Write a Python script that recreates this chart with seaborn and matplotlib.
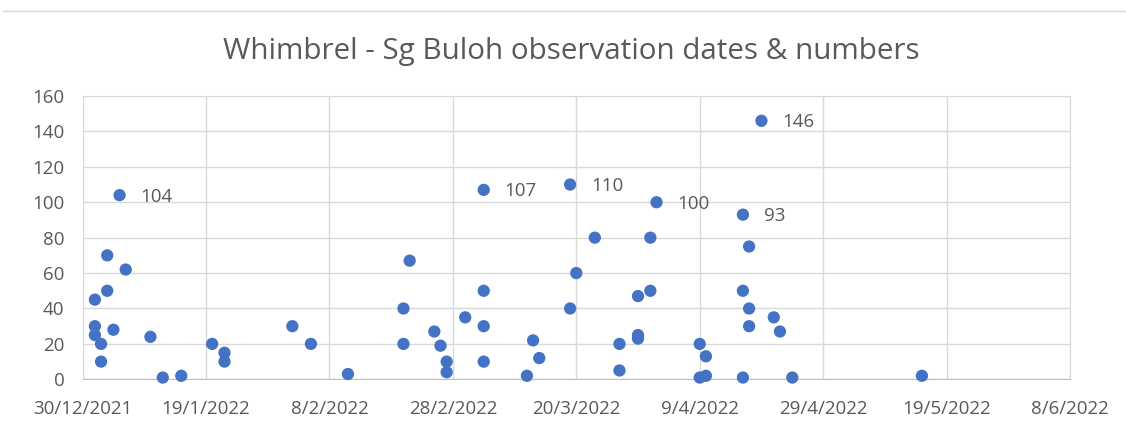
import pandas as pd
import matplotlib
matplotlib.use("Agg")
import matplotlib.pyplot as plt
import matplotlib.dates as mdates
from matplotlib.lines import Line2D
from matplotlib.ticker import FuncFormatter, FixedLocator, MultipleLocator
import seaborn as sns

# ---------- Data ----------
obs_dates = [
    "2022-01-01", "2022-01-01", "2022-01-01", "2022-01-02", "2022-01-02",
    "2022-01-03", "2022-01-03", "2022-01-04", "2022-01-05", "2022-01-06",
    "2022-01-10", "2022-01-12", "2022-01-15", "2022-01-20", "2022-01-22",
    "2022-01-22", "2022-02-02", "2022-02-05", "2022-02-11", "2022-02-20",
    "2022-02-20", "2022-02-21", "2022-02-25", "2022-02-26", "2022-02-27",
    "2022-02-27", "2022-03-02", "2022-03-05", "2022-03-05", "2022-03-05",
    "2022-03-05", "2022-03-12", "2022-03-13", "2022-03-14", "2022-03-19",
    "2022-03-19", "2022-03-20", "2022-03-23", "2022-03-27", "2022-03-27",
    "2022-03-30", "2022-03-30", "2022-03-30", "2022-04-01", "2022-04-01",
    "2022-04-02", "2022-04-09", "2022-04-09", "2022-04-10", "2022-04-10",
    "2022-04-16", "2022-04-16", "2022-04-16", "2022-04-17", "2022-04-17",
    "2022-04-17", "2022-04-19", "2022-04-21", "2022-04-22", "2022-04-24",
    "2022-05-15",
]
bird_counts = [
    45, 30, 25, 20, 10,
    70, 50, 28, 104, 62,
    24, 1, 2, 20, 15,
    10, 30, 20, 3, 40,
    20, 67, 27, 19, 10,
    4, 35, 107, 50, 30,
    10, 2, 22, 12, 110,
    40, 60, 80, 20, 5,
    47, 25, 23, 80, 50,
    100, 20, 1, 13, 2,
    93, 50, 1, 75, 40,
    30, 146, 35, 27, 1,
    2,
]
label_threshold = 90   # only the big counts carry a data label

x_start, x_end = "2021-12-30", "2022-06-08"
x_step_days = 20
y_max, y_step = 160, 20

BLUE = "#4472C4"
TEXT = "#595959"
GRID = "#D9D9D9"

df = pd.DataFrame({"date": pd.to_datetime(obs_dates), "count": bird_counts})

# ---------- Plot ----------
sns.set_style("white")
plt.rcParams["font.family"] = ["Open Sans", "DejaVu Sans"]

fig = plt.figure(figsize=(11.26, 4.21), dpi=100)
ax = fig.add_axes([0.0733, 0.099, 0.877, 0.673])

sns.scatterplot(data=df, x="date", y="count", ax=ax, color=BLUE, s=78,
                edgecolor="none", zorder=3, legend=False, clip_on=False)

for d, c in zip(df["date"], df["count"]):
    if c > label_threshold:
        ax.annotate(str(c), (d, c), xytext=(15, -1), textcoords="offset points",
                    va="center", ha="left", fontsize=13.5, color=TEXT)

ax.set_xlim(pd.Timestamp(x_start), pd.Timestamp(x_end))
ax.set_ylim(0, y_max)
x_ticks = pd.date_range(x_start, x_end, freq=f"{x_step_days}D")
ax.xaxis.set_major_locator(FixedLocator(mdates.date2num(x_ticks)))
ax.xaxis.set_major_formatter(FuncFormatter(
    lambda v, _: (lambda t: f"{t.day}/{t.month}/{t.year}")(mdates.num2date(v))))
ax.yaxis.set_major_locator(MultipleLocator(y_step))

ax.grid(True, color=GRID, linewidth=1)
ax.set_axisbelow(True)
for side in ["top", "right", "left"]:
    ax.spines[side].set_color(GRID)
ax.spines["bottom"].set_color("#BFBFBF")
ax.tick_params(axis="both", length=0, labelsize=13.5, labelcolor=TEXT)
ax.tick_params(axis="x", pad=15)
ax.tick_params(axis="y", pad=13)
ax.set_xlabel("")
ax.set_ylabel("")

fig.text(0.507, 0.878, "Whimbrel - Sg Buloh observation dates & numbers",
         ha="center", va="center", fontsize=21.3, color=TEXT)

# faint spreadsheet border above the chart
fig.add_artist(Line2D([0.003, 1.0], [0.974, 0.974], color=GRID, linewidth=1))

fig.savefig("out.png", dpi=100)
